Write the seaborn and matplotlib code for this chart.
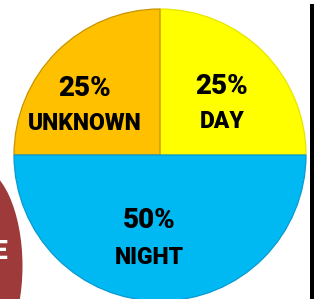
import matplotlib
matplotlib.use("Agg")
import matplotlib.pyplot as plt
import seaborn as sns
from matplotlib.patches import Ellipse, Rectangle

# Slice data (counter-clockwise from 3 o'clock)
categories = ["DAY", "UNKNOWN", "NIGHT"]
shares = [25, 25, 50]
slice_colors = ["#FFFF00", "#FFC000", "#00B8F2"]
edge_colors = ["#E6E600", "#C89400", "#0A9AD0"]

sns.set_theme(style="white")
plt.rcParams["font.family"] = ["Roboto", "DejaVu Sans"]

W, H = 314, 299
fig = plt.figure(figsize=(W / 100, H / 100), dpi=100)
ax = fig.add_axes([0, 0, 1, 1])

# red tab peeking in from the left edge
ax.add_patch(Ellipse((-24, 266), 93, 200, facecolor="#9E3A3A", edgecolor="none", zorder=1))
ax.text(7.5, 252, "E", color="white", fontsize=19, fontweight="heavy",
        ha="right", va="center", zorder=2)

# black strip on the right edge
ax.add_patch(Rectangle((310, 4), 5, H, facecolor="black", edgecolor="none", zorder=1))

# pie drawn on an inverted y axis, so go clockwise to keep DAY top-right
cx, cy, r = 160, 155, 146
wedges, _ = ax.pie(shares, colors=slice_colors, startangle=0, counterclock=False,
                   center=(cx, cy), radius=r, frame=True,
                   wedgeprops=dict(linewidth=0.9))
for w, ec in zip(wedges, edge_colors):
    w.set_edgecolor(ec)
    w.set_zorder(3)
ax.set_xlim(0, W)
ax.set_ylim(H, 0)
ax.axis("off")

# label layout (offsets from pie centre, pixels)
label_pos = {"DAY": (62, -52), "UNKNOWN": (-75, -50), "NIGHT": (-11, 83)}
for cat, val in zip(categories, shares):
    dx, dy = label_pos[cat]
    ax.text(cx + dx, cy + dy - 17, f"{val}%", fontsize=20, fontweight="heavy",
            ha="center", va="center", color="black", zorder=4)
    ax.text(cx + dx, cy + dy + 19, cat, fontsize=16.5, fontweight="heavy",
            ha="center", va="center", color="black", zorder=4)

fig.savefig("out.png", dpi=100)
